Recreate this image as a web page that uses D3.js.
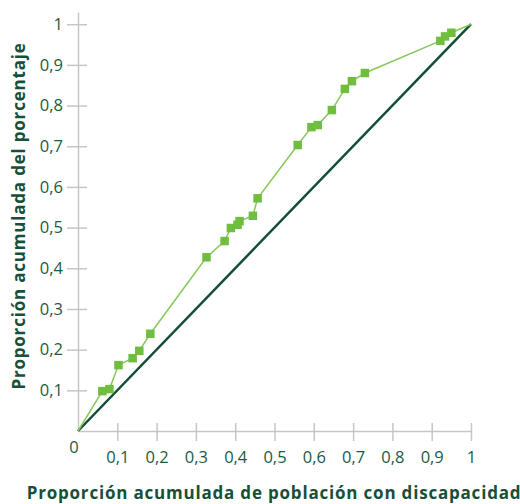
<!DOCTYPE html>
<html><head><meta charset="utf-8">
<script src="https://cdn.jsdelivr.net/npm/d3@7"></script>
<style>
html,body{margin:0;padding:0;background:#fff;}
svg{display:block;font-family:"Open Sans",sans-serif;}
</style></head>
<body><svg id="c" width="520" height="504"></svg>
<script>
const popCum = [0, 0.062, 0.080, 0.103, 0.139, 0.156, 0.184, 0.327, 0.373, 0.389, 0.406, 0.411, 0.445, 0.457, 0.559, 0.594, 0.610, 0.646, 0.679, 0.697, 0.730, 0.922, 0.934, 0.950, 1];
const pctCum = [0, 0.098, 0.103, 0.162, 0.179, 0.197, 0.239, 0.427, 0.467, 0.499, 0.507, 0.516, 0.529, 0.572, 0.703, 0.747, 0.752, 0.789, 0.841, 0.860, 0.880, 0.959, 0.970, 0.979, 1];
const xTicks = [0.1,0.2,0.3,0.4,0.5,0.6,0.7,0.8,0.9,1];
const yTicks = [0.1,0.2,0.3,0.4,0.5,0.6,0.7,0.8,0.9,1];
const xTitle = "Proporción acumulada de población con discapacidad";
const yTitle = "Proporción acumulada del porcentaje";

const fmt = d => String(+d.toFixed(1)).replace(".", ",");
const textColor = "#1d5a43", axisColor = "#c6c6c6";
const svg = d3.select("#c");
const x = d3.scaleLinear().domain([0,1]).range([78,471]);
const y = d3.scaleLinear().domain([0,1.03]).range([431,12]);

// x axis
const gx = svg.append("g").attr("transform",`translate(0,${y(0)})`)
  .call(d3.axisBottom(x).tickValues(xTicks).tickFormat(fmt).tickSizeInner(10).tickSizeOuter(0));
gx.select(".domain").attr("stroke",axisColor).attr("stroke-width",1.5);
gx.selectAll(".tick line").attr("stroke",axisColor).attr("stroke-width",1.5).attr("y1",-8);
gx.selectAll(".tick text").attr("fill",textColor).attr("font-size",16.5).attr("font-family","Open Sans").attr("y",20);

// y axis
const gy = svg.append("g").attr("transform",`translate(${x(0)},0)`)
  .call(d3.axisLeft(y).tickValues(yTicks).tickFormat(fmt).tickSizeInner(11).tickSizeOuter(0));
gy.select(".domain").attr("stroke",axisColor).attr("stroke-width",1.5);
gy.selectAll(".tick line").attr("stroke",axisColor).attr("stroke-width",1.5).attr("x1",9);
gy.selectAll(".tick text").attr("fill",textColor).attr("font-size",16.5).attr("font-family","Open Sans").attr("x",-15);

// origin label
svg.append("text").attr("x",x(0)-4).attr("y",y(0)+16).attr("dy","0.35em")
  .attr("text-anchor","middle").attr("fill",textColor).attr("font-size",16.5).text("0");

// equality diagonal
svg.append("line").attr("x1",x(0)).attr("y1",y(0)).attr("x2",x(1)).attr("y2",y(1))
  .attr("stroke","#124e36").attr("stroke-width",2.5);

// curve
const pts = popCum.map((v,i)=>[v,pctCum[i]]);
svg.append("path").datum(pts)
  .attr("d",d3.line().x(d=>x(d[0])).y(d=>y(d[1])))
  .attr("fill","none").attr("stroke","#86c85a").attr("stroke-width",1.5);
const ms = 8.5;
svg.append("g").selectAll("rect").data(pts.slice(1,-1)).join("rect")
  .attr("x",d=>x(d[0])-ms/2).attr("y",d=>y(d[1])-ms/2)
  .attr("width",ms).attr("height",ms).attr("fill","#6fbe3f");

// titles
svg.append("text").attr("x",274).attr("y",493).attr("dy","0.35em").attr("text-anchor","middle")
  .attr("fill","#174f38").attr("font-weight",700).attr("font-size",17).attr("letter-spacing",0.8).text(xTitle);
svg.append("text").attr("transform","translate(19,216) rotate(-90)").attr("dy","0.35em").attr("text-anchor","middle")
  .attr("fill","#174f38").attr("font-weight",700).attr("font-size",17).attr("letter-spacing",0.8).text(yTitle);
</script></body></html>
